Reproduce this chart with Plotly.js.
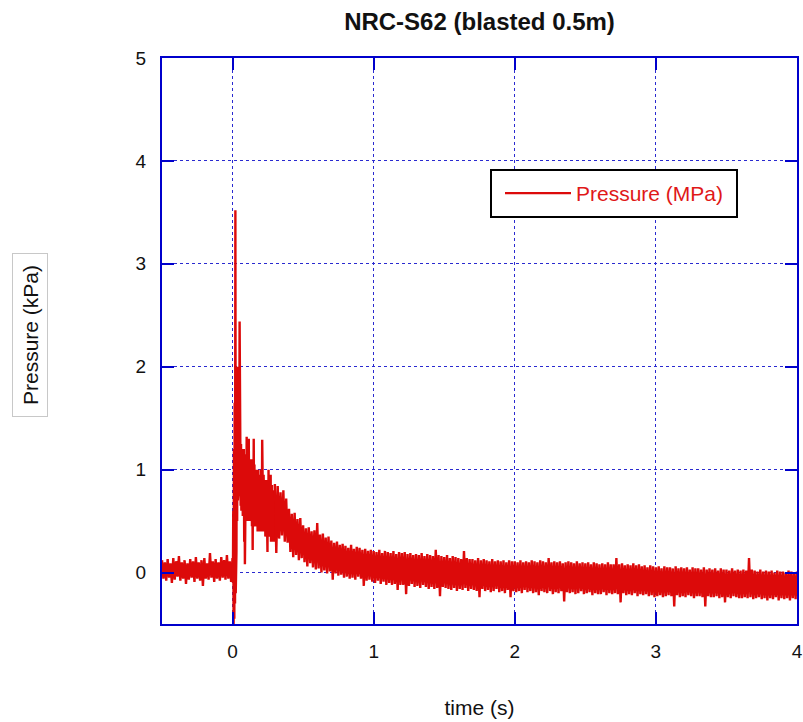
<!DOCTYPE html>
<html>
<head>
<meta charset="utf-8">
<script src="https://cdn.plot.ly/plotly-3.0.1.min.js"></script>
<style>html,body{margin:0;padding:0;background:#fff;}#chart{width:803px;height:722px;}</style>
</head>
<body>
<div id="chart"></div>
<script>
// Chart text
const chartTitle = "NRC-S62 (blasted 0.5m)";
const xTitle = "time (s)";
const yTitle = "Pressure (kPa)";
const seriesName = "Pressure (MPa)";
const xTicks = [0, 1, 2, 3, 4];
const yTicks = [0, 1, 2, 3, 4, 5];

// Pre-blast record: starts at t = -0.5 s, one sample every 0.01 s
const preStart = -0.5, preStep = 0.01;
const prePressure = [
  0.12,-0.06,0.10,-0.08,0.13,-0.05,0.09,-0.10,0.14,-0.07,
  0.11,-0.04,0.16,-0.08,0.10,-0.06,0.12,-0.11,0.09,-0.07,
  0.13,-0.05,0.11,-0.09,0.15,-0.06,0.10,-0.08,0.12,-0.13,
  0.14,-0.06,0.09,-0.07,0.19,-0.05,0.11,-0.09,0.13,-0.06,
  0.10,-0.08,0.15,-0.05,0.12,-0.07,0.17,-0.06,0.11,-0.09,0.14
];

// Blast record: starts at t = 0 s, one sample every 0.0025 s
const blastStart = 0.0, blastStep = 0.0025;
const blastPressure = [
  0.10,-0.10,0.60,-0.50,1.20,-0.45,1.65,-0.30,3.52,-0.20,
  1.75,0.20,1.60,0.50,2.00,0.70,1.55,0.80,1.40,0.75,
  2.44,0.70,1.30,0.65,1.25,0.60,1.20,0.70,1.15,0.55,
  1.10,0.60,1.20,0.30,1.05,0.08,1.10,0.60,1.15,0.50,
  1.32,0.55,1.10,0.60,1.05,0.50,1.30,0.55,1.00,0.60,
  1.10,0.50,1.05,0.55,1.00,0.45,1.10,0.22,1.00,0.50,
  1.30,0.55,1.05,0.45,0.95,0.50,1.00,0.45,0.95,0.50,
  0.90,0.40,1.00,0.45,0.90,0.50,0.95,0.40,0.90,0.45,
  1.00,0.40,0.95,0.45,1.29,0.50,0.90,0.40,0.95,0.45,
  0.85,0.40,0.90,0.35,0.85,0.40,0.90,0.35,0.85,0.20,
  0.90,0.40,1.00,0.35,0.85,0.40,0.80,0.35,0.95,0.30,
  0.80,0.35,0.85,0.30,0.80,0.35,0.75,0.30,0.80,0.35,0.78
];

// Decay record: starts at t = 0.3 s, one sample every 0.01 s
const decayStart = 0.3, decayStep = 0.01;
const decayPressure = [
  0.86,0.19,0.84,0.33,0.78,0.36,0.80,0.30,0.72,0.29,
  0.62,0.20,0.57,0.15,0.58,0.17,0.52,0.12,0.53,0.14,
  0.46,0.10,0.43,0.06,0.44,0.09,0.40,0.05,0.41,0.03,
  0.48,0.04,0.37,0.00,0.38,0.02,0.34,-0.01,0.35,0.01,
  0.31,-0.07,0.29,-0.01,0.30,-0.03,0.27,-0.02,0.28,-0.05,
  0.26,-0.04,0.24,-0.06,0.27,-0.05,0.23,-0.07,0.25,-0.04,
  0.24,-0.06,0.22,-0.13,0.23,-0.08,0.21,-0.07,0.22,-0.09,
  0.21,-0.10,0.20,-0.08,0.22,-0.11,0.19,-0.09,0.21,-0.12,
  0.20,-0.10,0.19,-0.12,0.21,-0.11,0.18,-0.17,0.20,-0.12,
  0.19,-0.12,0.20,-0.21,0.18,-0.13,0.19,-0.11,0.17,-0.14,
  0.18,-0.13,0.17,-0.15,0.19,-0.12,0.16,-0.14,0.18,-0.16,
  0.17,-0.14,0.16,-0.16,0.22,-0.15,0.17,-0.23,0.16,-0.14,
  0.15,-0.15,0.17,-0.16,0.14,-0.17,0.16,-0.15,0.15,-0.18,
  0.14,-0.16,0.13,-0.17,0.21,-0.15,0.14,-0.18,0.13,-0.16,
  0.13,-0.17,0.12,-0.18,0.14,-0.24,0.12,-0.16,0.13,-0.18,
  0.12,-0.17,0.11,-0.19,0.13,-0.18,0.11,-0.16,0.12,-0.19,
  0.11,-0.18,0.12,-0.20,0.10,-0.17,0.12,-0.24,0.11,-0.18,
  0.11,-0.19,0.10,-0.18,0.12,-0.20,0.10,-0.17,0.11,-0.19,
  0.10,-0.18,0.12,-0.20,0.11,-0.19,0.10,-0.22,0.12,-0.18,
  0.11,-0.19,0.10,-0.20,0.14,-0.18,0.10,-0.21,0.11,-0.19,
  0.10,-0.20,0.11,-0.18,0.09,-0.28,0.10,-0.19,0.11,-0.20,
  0.10,-0.19,0.09,-0.21,0.11,-0.20,0.09,-0.18,0.10,-0.21,
  0.09,-0.20,0.10,-0.19,0.08,-0.22,0.10,-0.20,0.09,-0.21,
  0.08,-0.21,0.09,-0.19,0.08,-0.22,0.10,-0.20,0.08,-0.21,
  0.08,-0.20,0.14,-0.21,0.08,-0.29,0.09,-0.20,0.07,-0.22,
  0.08,-0.21,0.07,-0.22,0.09,-0.20,0.07,-0.23,0.08,-0.21,
  0.06,-0.22,0.07,-0.21,0.05,-0.23,0.07,-0.22,0.06,-0.24,
  0.05,-0.23,0.06,-0.22,0.04,-0.24,0.06,-0.23,0.05,-0.22,
  0.05,-0.23,0.04,-0.33,0.06,-0.22,0.04,-0.24,0.05,-0.23,
  0.04,-0.24,0.05,-0.22,0.03,-0.23,0.05,-0.25,0.04,-0.23,
  0.04,-0.23,0.03,-0.24,0.05,-0.33,0.03,-0.23,0.04,-0.24,
  0.03,-0.24,0.04,-0.23,0.02,-0.25,0.04,-0.24,0.03,-0.29,
  0.03,-0.24,0.02,-0.25,0.04,-0.23,0.02,-0.24,0.03,-0.25,
  0.02,-0.25,0.03,-0.24,0.02,-0.25,0.14,-0.24,0.03,-0.26,
  0.02,-0.25,0.01,-0.24,0.03,-0.26,0.01,-0.25,0.02,-0.27,
  0.01,-0.25,0.02,-0.26,0.00,-0.24,0.02,-0.27,0.01,-0.25,
  0.01,-0.26,0.00,-0.25,0.02,-0.27,0.01,-0.25,0.00,-0.26,
  0.01
];

const red = "#dc0a0a";
const blue = "#0000cc";
const font = "Arial, 'Liberation Sans', sans-serif";

const lineStyle = {color: red, width: 2.4};
const traces = [
  {type: "scatter", mode: "lines", name: seriesName, x0: preStart, dx: preStep, y: prePressure,
   line: lineStyle, legendgroup: "p", showlegend: true},
  {type: "scatter", mode: "lines", name: seriesName, x0: blastStart, dx: blastStep, y: blastPressure,
   line: lineStyle, legendgroup: "p", showlegend: false},
  {type: "scatter", mode: "lines", name: seriesName, x0: decayStart, dx: decayStep, y: decayPressure,
   line: lineStyle, legendgroup: "p", showlegend: false}
];

const axisCommon = {
  showline: true, linecolor: blue, linewidth: 2, mirror: "ticks",
  ticks: "inside", ticklen: 12, tickwidth: 2, tickcolor: blue,
  showgrid: true, gridcolor: "#2a2ad0", gridwidth: 1, griddash: "dot",
  zeroline: false, tickfont: {family: font, size: 19, color: "#111"}
};

// legend frame geometry (pixels of the 803x722 page) converted to paper units
const plotL = 162, plotW = 635, plotB = 624, plotH = 566;
const px = v => (v - plotL) / plotW;
const py = v => (plotB - v) / plotH;

const layout = {
  width: 803, height: 722,
  margin: {l: 162, r: 6, t: 58, b: 98},
  paper_bgcolor: "#fff", plot_bgcolor: "#fff",
  title: {text: chartTitle, font: {family: font, size: 24, color: "#111", weight: "bold"},
          x: 0.5, xref: "paper", xanchor: "center", y: 1 - 22/722, yref: "container", yanchor: "middle"},
  xaxis: Object.assign({}, axisCommon, {
    range: [-0.5, 4], tickvals: xTicks, ticktext: xTicks.map(String),
    ticklabelstandoff: 9,
    title: {text: xTitle, font: {family: font, size: 21, color: "#111"}, standoff: 40}
  }),
  yaxis: Object.assign({}, axisCommon, {
    range: [-0.5, 5], tickvals: yTicks, ticktext: yTicks.map(String),
    ticklabelstandoff: 10
  }),
  showlegend: true,
  legend: {
    x: px(500), y: py(173), xanchor: "left", yanchor: "top",
    bgcolor: "rgba(0,0,0,0)", borderwidth: 0,
    font: {family: font, size: 21, color: "#e01818"},
    itemwidth: 66
  },
  shapes: [{
    type: "rect", xref: "paper", yref: "paper", layer: "above",
    x0: px(491), x1: px(737), y0: py(217), y1: py(170),
    line: {color: "#000", width: 2}, fillcolor: "#fff"
  }],
  annotations: [{
    text: yTitle, textangle: -90, xref: "paper", yref: "paper",
    x: px(30), y: py(335), xanchor: "center", yanchor: "middle", showarrow: false,
    font: {family: font, size: 21, color: "#111"},
    width: 156, height: 28,
    bordercolor: "#c8c8c8", borderwidth: 1, borderpad: 3, bgcolor: "#fff"
  }]
};

Plotly.newPlot("chart", traces, layout, {displayModeBar: false, staticPlot: true});
</script>
</body>
</html>
